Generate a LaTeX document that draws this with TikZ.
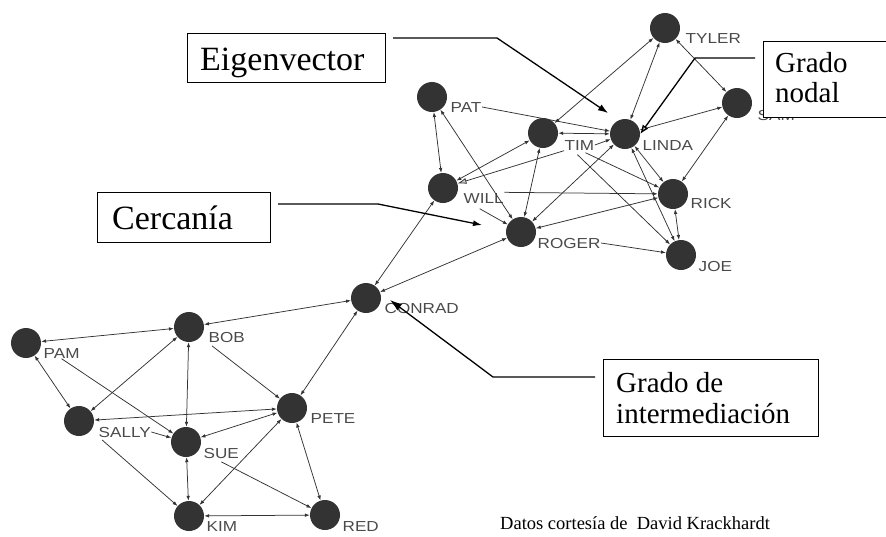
\documentclass[tikz,border=0pt]{standalone}
\usepackage{fontspec}
\setmainfont{Liberation Serif}
\newfontfamily\lblfont[FakeStretch=1.18]{Liberation Sans}
\usetikzlibrary{arrows.meta,calc}

\definecolor{nodegray}{HTML}{333333}
\definecolor{edgegray}{HTML}{333333}
\definecolor{labelgray}{HTML}{4A4A4A}

\begin{document}
\begin{tikzpicture}[x=1pt,y=-1pt,
  actor/.style={circle,fill=nodegray,minimum size=30pt,inner sep=0pt},
  actorlabel/.style={font=\lblfont\fontsize{14.5}{14.5}\selectfont,text=labelgray,
    anchor=base west,inner sep=0.5pt},
  tie/.style={draw=edgegray,line width=0.75pt,
    {Latex[length=5pt,width=3.6pt]}-{Latex[length=5pt,width=3.6pt]}},
  onetie/.style={draw=edgegray,line width=0.75pt,-{Latex[length=5pt,width=3.6pt]}},
  measure/.style={draw,fill=white,line width=1.4pt,inner sep=0pt},
  bigtext/.style={font=\fontsize{34}{34}\selectfont,anchor=base west,inner sep=0pt},
  smalltext/.style={font=\fontsize{29}{29}\selectfont,anchor=base west,inner sep=0pt},
  pointer/.style={line width=1.3pt,-{Latex[length=11pt,width=7pt]}}
]
\useasboundingbox (0,0) rectangle (886,536);
\clip (0,0) rectangle (886,536);

% ---- actors ----
\node[actor] (TYLER)  at (665,28)  {};
\node[actor] (SAM)    at (737,103) {};
\node[actor] (PAT)    at (432,97)  {};
\node[actor] (TIM)    at (543,133) {};
\node[actor] (LINDA)  at (625,134) {};
\node[actor] (WILL)   at (443,188) {};
\node[actor] (RICK)   at (673,194) {};
\node[actor] (ROGER)  at (521,232) {};
\node[actor] (JOE)    at (681,255) {};
\node[actor] (CONRAD) at (366,298) {};
\node[actor] (BOB)    at (189,327) {};
\node[actor] (PAM)    at (26,343)  {};
\node[actor] (SALLY)  at (79,421)  {};
\node[actor] (PETE)   at (292,408) {};
\node[actor] (SUE)    at (186,442) {};
\node[actor] (KIM)    at (189,516) {};
\node[actor] (RED)    at (325,515) {};

% ---- names ----
\node[actorlabel] (lTYLER)  at (685,43)  {TYLER};
\node[actorlabel] (lSAM)    at (757,120) {SAM};
\node[actorlabel] (lPAT)    at (450,112) {PAT};
\node[actorlabel] (lTIM)    at (564,150) {TIM};
\node[actorlabel] (lLINDA)  at (642,150) {LINDA};
\node[actorlabel] (lWILL)   at (463,203) {WILL};
\node[actorlabel] (lRICK)   at (690,208) {RICK};
\node[actorlabel] (lROGER)  at (537,248) {ROGER};
\node[actorlabel] (lJOE)    at (698,271) {JOE};
\node[actorlabel] (lCONRAD) at (384,313) {CONRAD};
\node[actorlabel] (lBOB)    at (208,342) {BOB};
\node[actorlabel] (lPAM)    at (43,358)  {PAM};
\node[actorlabel] (lSALLY)  at (98,437)  {SALLY};
\node[actorlabel] (lPETE)   at (310,423) {PETE};
\node[actorlabel] (lSUE)    at (203,458) {SUE};
\node[actorlabel] (lKIM)    at (206,531) {KIM};
\node[actorlabel] (lRED)    at (342,531) {RED};

% ---- ties, lower group ----
\draw[tie] (PAM) -- (BOB);
\draw[tie] (PAM) -- (SALLY);
\draw[onetie] (lPAM.south) -- (SUE);
\draw[tie] (BOB) -- (SALLY);
\draw[tie] (BOB) -- (SUE);
\draw[onetie] ($(lBOB.south west)+(4,3)$) -- (PETE);
\draw[tie] (BOB) -- (CONRAD);
\draw[tie] (SALLY) -- (PETE);
\draw[onetie] (lSALLY.east) -- (SUE);
\draw[onetie] ($(lSALLY.south west)+(4,2)$) -- (KIM);
\draw[tie] (SUE) -- (PETE);
\draw[tie] (SUE) -- (KIM);
\draw[onetie] ($(lSUE.south)+(0,3)$) -- (RED);
\draw[tie] (PETE) -- (KIM);
\draw[tie] (PETE) -- (RED);
\draw[tie] (KIM) -- (RED);
\draw[tie] (PETE) -- (CONRAD);

% ---- ties, upper group ----
\draw[tie] (CONRAD) -- (WILL);
\draw[tie] (CONRAD) -- (ROGER);
\draw[tie] (PAT) -- (WILL);
\draw[tie] (PAT) -- (ROGER);
\draw[onetie] (lPAT.east) -- (LINDA);
\draw[tie] (TIM) -- (WILL);
\draw[onetie,-{Latex[length=9pt,width=6pt,fill=gray!40]}] (lTIM.south west) -- (WILL);
\draw[tie] (TIM) -- (ROGER);
\draw[tie] (TIM) -- (TYLER);
\draw[tie] (TIM) -- (LINDA);
\draw[onetie] (lTIM.east) -- (LINDA);
\draw[onetie] ($(lTIM.south)+(6,2)$) -- (RICK);
\draw[onetie] ($(lTIM.south)+(-2,4)$) -- (JOE);
\draw[onetie] (lWILL.north east) -- (RICK);
\draw[onetie] ($(lWILL.south)+(-4,5)$) -- (ROGER);
\draw[tie] (LINDA) -- (ROGER);
\draw[tie] (LINDA) -- (TYLER);
\draw[tie] (LINDA) -- (SAM);
\draw[tie] (LINDA) -- (RICK);
\draw[tie] (LINDA) -- (JOE);
\draw[tie] (TYLER) -- (SAM);
\draw[tie] (SAM) -- (RICK);
\draw[tie] (RICK) -- (JOE);
\draw[tie] (RICK) -- (ROGER);
\draw[onetie] (lROGER.east) -- (JOE);

% ---- measure boxes ----
\node[measure,anchor=north west,minimum width=198pt,minimum height=49pt] (eigbox) at (187,33) {};
\node[bigtext] (eig) at (200,70) {Eigenvector};
\node[measure,anchor=north west,minimum width=173pt,minimum height=50pt] (cerbox) at (97,192) {};
\node[bigtext] (cer) at (112,229) {Cercanía};
\node[measure,anchor=north west,minimum width=140pt,minimum height=76pt] (gnbox) at (763,41) {};
\node[smalltext] (gn1) at (775,72) {Grado};
\node[smalltext] (gn2) at (775,102) {nodal};
\node[measure,anchor=north west,minimum width=215pt,minimum height=77pt] (gibox) at (603,359) {};
\node[smalltext] (gi1) at (616,392) {Grado de};
\node[smalltext] (gi2) at (616,423) {intermediación};

% ---- pointers ----
\coordinate (e1) at (393,38);  \coordinate (e2) at (497,38);  \coordinate (e3) at (608,113);
\draw[pointer,-{Latex[length=10pt,width=7pt]}] (e1) -- (e2) -- (e3);
\coordinate (g1) at (755,58);  \coordinate (g2) at (695,58);
\draw[pointer,-{Latex[length=9pt,width=7pt,fill=gray!40]}] (g1) -- (g2) -- (LINDA.east);
\coordinate (c1) at (278,204); \coordinate (c2) at (378,204); \coordinate (c3) at (482,225);
\draw[pointer,-{Latex[length=9pt,width=6pt]}] (c1) -- (c2) -- (c3);
\coordinate (i1) at (595,377); \coordinate (i2) at (493,377); \coordinate (i3) at (390,300);
\draw[pointer,-{Latex[length=12pt,width=8pt]}] (i1) -- (i2) -- (i3);

% ---- credit line ----
\node[anchor=base west,inner sep=0pt,font=\fontsize{18.5}{18.5}\selectfont] (credit)
  at (500,529) {Datos cortesía de\ \ David Krackhardt};
\end{tikzpicture}
\end{document}
